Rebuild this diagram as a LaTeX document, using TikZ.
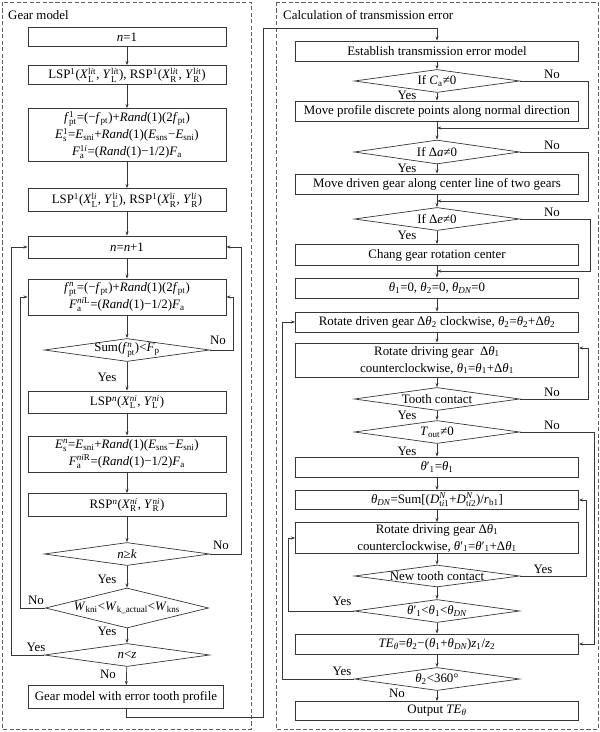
\documentclass[tikz,border=0pt]{standalone}
\usepackage{amsmath}
\usepackage{fontspec}
\setmainfont{Liberation Serif}
\usetikzlibrary{arrows.meta,positioning,shapes.geometric}
\definecolor{linec}{RGB}{55,55,55}
\definecolor{framec}{RGB}{95,95,95}
\newcommand{\vi}[1]{\textit{#1}}
\newcommand{\dtx}[1]{\makebox[0pt]{#1}}

\begin{document}
\begin{tikzpicture}[x=0.03cm,y=-0.03cm,font=\fontsize{11}{14.5}\selectfont,>={Stealth[length=3.6pt,width=2.6pt]},
  lb/.style={draw=linec,line width=0.6pt,inner sep=0pt,minimum width=5.94cm,minimum height=#1*0.03cm,align=center},
  rb/.style={lb=#1,minimum width=8.49cm},
  dc/.style={draw=linec,line width=0.6pt,shape=diamond,aspect=4,inner sep=0pt,minimum width=4.96cm,minimum height=#1*0.03cm},
  ln/.style={draw=linec,line width=0.6pt,->},
  yn/.style={inner sep=0pt},
  frame/.style={draw=framec,line width=0.8pt,dash pattern=on 3.5pt off 2pt}]
\useasboundingbox (0,0) rectangle (600,732);
% frames
\draw[frame] (2,2) rectangle (251,729);
\draw[frame] (276,2) rectangle (598,729);
\node[yn,anchor=west] (tl) at (8,15) {Gear model};
\node[yn,anchor=west] (tr) at (283,15) {Calculation of transmission error};
% gear model column
\node[lb=19] (n1) at (127,37) {\vi{n}=1};
\node[lb=19] (lsp1) at (127,75) {LSP$^\text{1}$(\vi{X}$_\text{L}^{\text{l\textit{i}t}}$, \vi{Y}$_\text{L}^{\text{l\textit{i}t}}$), RSP$^\text{1}$(\vi{X}$_\text{R}^{\text{l\textit{i}t}}$, \vi{Y}$_\text{R}^{\text{l\textit{i}t}}$)};
\node[lb=53] (f1) at (127,135) {\vi{f}$_\text{pt}^\text{1}$=(−\vi{f}$_\text{pt}$)+\vi{Rand}(1)(2\vi{f}$_\text{pt}$)\\
  \vi{E}$_\text{s}^\text{1}$=\vi{E}$_\text{sni}$+\vi{Rand}(1)(\vi{E}$_\text{sns}$−\vi{E}$_\text{sni}$)\\
  \vi{F}$_\text{a}^{\text{1\textit{i}}}$=(\vi{Rand}(1)−1/2)\vi{F}$_\text{a}$};
\node[lb=23] (lsp2) at (127,200) {LSP$^\text{1}$(\vi{X}$_\text{L}^{\text{l\textit{i}}}$, \vi{Y}$_\text{L}^{\text{l\textit{i}}}$), RSP$^\text{1}$(\vi{X}$_\text{R}^{\text{l\textit{i}}}$, \vi{Y}$_\text{R}^{\text{l\textit{i}}}$)};
\node[lb=22] (nn) at (127,247) {\vi{n}=\vi{n}+1};
\node[lb=36] (fn) at (127,297) {\vi{f}$_\text{pt}^{\textit{n}}$=(−\vi{f}$_\text{pt}$)+\vi{Rand}(1)(2\vi{f}$_\text{pt}$)\\
  \vi{F}$_\text{a}^{\textit{ni}\text{L}}$=(\vi{Rand}(1)−1/2)\vi{F}$_\text{a}$};
\node[dc=23] (sum) at (127,350) {\dtx{Sum(\vi{f}$_\text{pt}^{\textit{n}}$)<\vi{F}$_\text{p}$}};
\node[lb=22] (lspn) at (127,402) {LSP$^{\textit{n}}$(\vi{X}$_\text{L}^{\textit{ni}}$, \vi{Y}$_\text{L}^{\textit{ni}}$)};
\node[lb=36] (esn) at (127,454) {\vi{E}$_\text{s}^{\textit{n}}$=\vi{E}$_\text{sni}$+\vi{Rand}(1)(\vi{E}$_\text{sns}$−\vi{E}$_\text{sni}$)\\
  \vi{F}$_\text{a}^{\textit{ni}\text{R}}$=(\vi{Rand}(1)−1/2)\vi{F}$_\text{a}$};
\node[lb=23] (rspn) at (127,505) {RSP$^{\textit{n}}$(\vi{X}$_\text{R}^{\textit{ni}}$, \vi{Y}$_\text{R}^{\textit{ni}}$)};
\node[dc=23] (nk) at (127,554) {\dtx{\vi{n}≥\vi{k}}};
\node[dc=40,minimum width=4.89cm] (wk) at (127,608) {\dtx{\vi{W}$_\text{kni}$<\vi{W}$_\text{k\_actual}$<\vi{W}$_\text{kns}$}};
\node[dc=23] (nz) at (127,655) {\dtx{\vi{n}<\vi{z}}};
\node[lb=23,minimum width=5.85cm] (gm) at (126,697) {Gear model with error tooth profile};
\foreach \a/\b in {n1/lsp1,lsp1/f1,f1/lsp2,lsp2/nn,nn/fn,fn/sum,sum/lspn,lspn/esn,esn/rspn,rspn/nk,nk/wk,wk/nz,nz/gm}
  \draw[ln] (\a) -- (\b);
\draw[ln] (sum.east) -- (233,350) |- (fn.east);
\draw[ln] (nk.east) -- (241,554) |- (nn.east);
\draw[ln] (wk.west) -- (20,608) |- (fn.west);
\draw[ln] (nz.west) -- (11,655) |- (nn.west);
\node[yn] (y1) at (218,340) {No};
\node[yn] (y2) at (107,377) {Yes};
\node[yn] (y3) at (221,545) {No};
\node[yn] (y4) at (107,579) {Yes};
\node[yn] (y5) at (36,600) {No};
\node[yn] (y6) at (107,631) {Yes};
\node[yn] (y7) at (36,647) {Yes};
\node[yn] (y8) at (108,674) {No};
% from gear model to transmission error
\coordinate (g1) at (263,717);
\coordinate (g2) at (263,28);
% transmission error column
\node[rb=20] (est) at (437,51) {Establish transmission error model};
\draw[ln] (gm.south) |- (g1) -- (g2) -| (est.north);
\node[dc=23] (ca) at (437,81) {\dtx{If \vi{C}$_\text{a}$≠0}};
\node[rb=20] (mp) at (437,111) {Move profile discrete points along normal direction};
\node[dc=24] (da) at (437,152) {\dtx{If Δ\vi{a}≠0}};
\node[rb=20] (md) at (437,184) {Move driven gear along center line of two gears};
\node[dc=23] (de) at (437,219) {\dtx{If Δ\vi{e}≠0}};
\node[rb=21] (cg) at (437,255) {Chang gear rotation center};
\node[rb=20] (th) at (437,288) {\vi{θ}$_\text{1}$=0, \vi{θ}$_\text{2}$=0, \vi{θ}$_{\textit{DN}}$=0};
\node[rb=20] (rdn) at (437,322) {Rotate driven gear Δ\vi{θ}$_\text{2}$ clockwise, \vi{θ}$_\text{2}$=\vi{θ}$_\text{2}$+Δ\vi{θ}$_\text{2}$};
\node[rb=34] (rdg1) at (437,360) {Rotate driving gear\ \ Δ\vi{θ}$_\text{1}$\\ counterclockwise, \vi{θ}$_\text{1}$=\vi{θ}$_\text{1}$+Δ\vi{θ}$_\text{1}$};
\node[dc=23] (tc) at (437,399) {\dtx{Tooth contact}};
\node[dc=23] (to) at (437,432) {\dtx{\vi{T}$_\text{out}$≠0}};
\node[rb=20] (tp) at (437,467) {\vi{θ}′$_\text{1}$=\vi{θ}$_\text{1}$};
\node[rb=19] (tdn) at (437,500) {\vi{θ}$_{\textit{DN}}$=Sum[(\vi{D}$_{\text{t\textit{i}1}}^{\textit{N}}$+\vi{D}$_{\text{t\textit{i}2}}^{\textit{N}}$)/\vi{r}$_\text{b1}$]};
\node[rb=31] (rdg2) at (437,538) {Rotate driving gear Δ\vi{θ}$_\text{1}$\\ counterclockwise, \vi{θ}′$_\text{1}$=\vi{θ}′$_\text{1}$+Δ\vi{θ}$_\text{1}$};
\node[dc=22] (nt) at (437,576) {\dtx{New tooth contact}};
\node[dc=23] (tt) at (437,611) {\dtx{\vi{θ}′$_\text{1}$<\vi{θ}$_\text{1}$<\vi{θ}$_{\textit{DN}}$}};
\node[rb=20] (te) at (437,644) {\vi{TE}$_{\textit{θ}}$=\vi{θ}$_\text{2}$−(\vi{θ}$_\text{1}$+\vi{θ}$_{\textit{DN}}$)\vi{z}$_\text{1}$/\vi{z}$_\text{2}$};
\node[dc=23] (t2) at (437,679) {\dtx{\vi{θ}$_\text{2}$<360°}};
\node[rb=19] (out) at (437,711) {Output \vi{TE}$_{\textit{θ}}$};
\foreach \a/\b in {est/ca,ca/mp,mp/da,da/md,md/de,de/cg,cg/th,th/rdn,rdn/rdg1,rdg1/tc,tc/to,to/tp,tp/tdn,tdn/rdg2,rdg2/nt,nt/tt,tt/te,te/t2,t2/out}
  \draw[ln] (\a) -- (\b);
\coordinate (m1) at (437,128);
\coordinate (m2) at (437,201);
\coordinate (m3) at (437,271);
\draw[ln] (ca.east) -- (588,81) |- (m1);
\draw[ln] (da.east) -- (588,152) |- (m2);
\draw[ln] (de.east) -- (590,219) |- (m3);
\draw[ln] (tc.east) -- (588,399) |- ([yshift=0.36cm]rdg1.east);
\draw[ln] (to.east) -- (594,432) |- (te.east);
\draw[ln] (nt.east) -- (586,576) |- (tdn.east);
\draw[ln] (tt.west) -- (288,611) |- (rdg2.west);
\draw[ln] (t2.west) -- (282,679) |- (rdn.west);
\node[yn] (r1) at (552,74) {No};
\node[yn] (r2) at (407,95) {Yes};
\node[yn] (r3) at (552,145) {No};
\node[yn] (r4) at (407,168) {Yes};
\node[yn] (r5) at (552,212) {No};
\node[yn] (r6) at (407,235) {Yes};
\node[yn] (r7) at (552,392) {No};
\node[yn] (r8) at (407,415) {Yes};
\node[yn] (r9) at (552,425) {No};
\node[yn] (r10) at (407,451) {Yes};
\node[yn] (r11) at (543,569) {Yes};
\node[yn] (r12) at (342,601) {Yes};
\node[yn] (r13) at (342,671) {Yes};
\node[yn] (r14) at (397,693) {No};
\end{tikzpicture}
\end{document}
